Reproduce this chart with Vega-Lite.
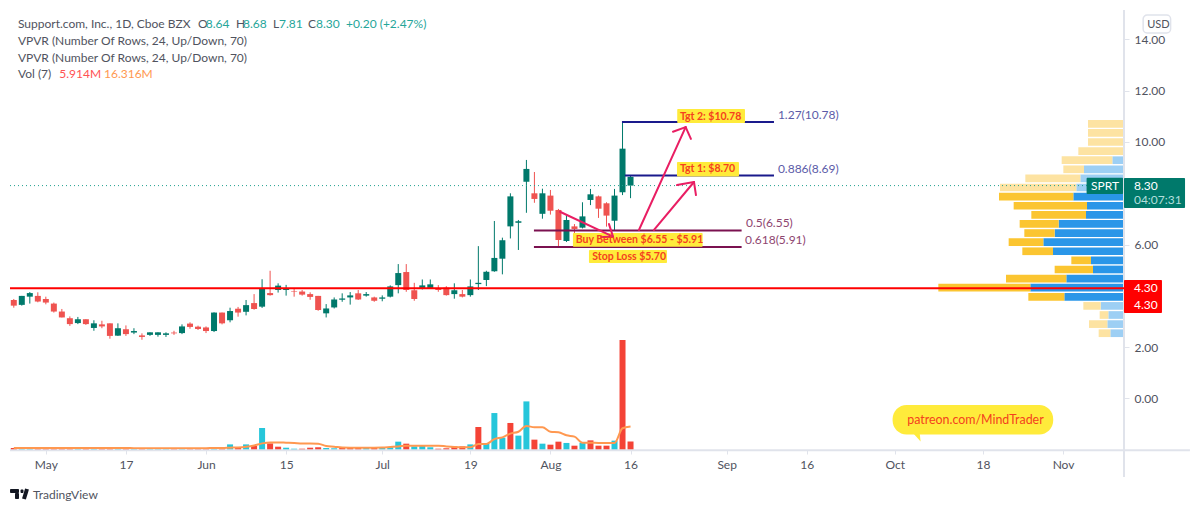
{"$schema":"https://vega.github.io/schema/vega-lite/v6.json","width":1114,"height":440,"autosize":{"type":"none"},"padding":{"left":10,"top":10,"right":76,"bottom":62},"background":"#FFFFFF","config":{"view":{"stroke":null},"font":"Lato","text":{"font":"Lato"}},
"datasets":{
"candles":[
{"i":0,"open":3.84,"high":3.88,"low":3.54,"close":3.62,"tone":"candleDown"},{"i":1,"open":3.65,"high":4.0,"low":3.62,"close":4.0,"tone":"candleUp"},{"i":2,"open":3.97,"high":4.15,"low":3.7,"close":4.11,"tone":"candleUp"},{"i":3,"open":4.0,"high":4.14,"low":3.75,"close":3.78,"tone":"candleDown"},{"i":4,"open":3.88,"high":3.97,"low":3.67,"close":3.74,"tone":"candleDown"},{"i":5,"open":3.7,"high":3.74,"low":3.35,"close":3.39,"tone":"candleDown"},{"i":6,"open":3.39,"high":3.49,"low":3.16,"close":3.16,"tone":"candleDown"},{"i":7,"open":3.13,"high":3.2,"low":2.83,"close":2.9,"tone":"candleDown"},{"i":8,"open":2.94,"high":3.18,"low":2.9,"close":3.09,"tone":"candleUp"},{"i":9,"open":3.09,"high":3.09,"low":2.87,"close":2.9,"tone":"candleDown"},{"i":10,"open":2.75,"high":3.05,"low":2.64,"close":2.93,"tone":"candleUp"},{"i":11,"open":2.89,"high":3.03,"low":2.74,"close":2.81,"tone":"candleDown"},{"i":12,"open":2.93,"high":2.93,"low":2.33,"close":2.44,"tone":"candleDown"},{"i":13,"open":2.45,"high":2.93,"low":2.44,"close":2.74,"tone":"candleUp"},{"i":14,"open":2.7,"high":2.85,"low":2.44,"close":2.51,"tone":"candleDown"},{"i":15,"open":2.57,"high":2.74,"low":2.51,"close":2.63,"tone":"candleUp"},{"i":16,"open":2.46,"high":2.54,"low":2.29,"close":2.4,"tone":"candleDown"},{"i":17,"open":2.48,"high":2.58,"low":2.44,"close":2.58,"tone":"candleUp"},{"i":18,"open":2.48,"high":2.58,"low":2.41,"close":2.58,"tone":"candleUp"},{"i":19,"open":2.48,"high":2.58,"low":2.4,"close":2.54,"tone":"candleUp"},{"i":20,"open":2.57,"high":2.64,"low":2.48,"close":2.54,"tone":"candleDown"},{"i":21,"open":2.55,"high":2.89,"low":2.51,"close":2.81,"tone":"candleUp"},{"i":22,"open":2.92,"high":2.97,"low":2.72,"close":2.79,"tone":"candleDown"},{"i":23,"open":2.8,"high":2.84,"low":2.67,"close":2.71,"tone":"candleDown"},{"i":24,"open":2.77,"high":2.81,"low":2.55,"close":2.63,"tone":"candleDown"},{"i":25,"open":2.63,"high":3.36,"low":2.59,"close":3.35,"tone":"candleUp"},{"i":26,"open":3.35,"high":3.35,"low":2.89,"close":2.93,"tone":"candleDown"},{"i":27,"open":3.05,"high":3.54,"low":2.97,"close":3.41,"tone":"candleUp"},{"i":28,"open":3.5,"high":3.57,"low":3.19,"close":3.35,"tone":"candleDown"},{"i":29,"open":3.38,"high":3.84,"low":3.24,"close":3.64,"tone":"candleUp"},{"i":30,"open":3.72,"high":4.07,"low":3.46,"close":3.49,"tone":"candleDown"},{"i":31,"open":3.58,"high":4.65,"low":3.53,"close":4.27,"tone":"candleUp"},{"i":32,"open":4.11,"high":4.98,"low":4.01,"close":4.03,"tone":"candleDown"},{"i":33,"open":4.23,"high":4.49,"low":4.13,"close":4.4,"tone":"candleUp"},{"i":34,"open":4.23,"high":4.43,"low":4.01,"close":4.28,"tone":"candleUp"},{"i":35,"open":4.19,"high":4.3,"low":3.97,"close":4.17,"tone":"candleDown"},{"i":36,"open":4.17,"high":4.23,"low":4.01,"close":4.05,"tone":"candleDown"},{"i":37,"open":4.07,"high":4.14,"low":3.85,"close":3.96,"tone":"candleDown"},{"i":38,"open":4.0,"high":4.0,"low":3.42,"close":3.45,"tone":"candleDown"},{"i":39,"open":3.32,"high":3.68,"low":3.16,"close":3.51,"tone":"candleUp"},{"i":40,"open":3.55,"high":3.94,"low":3.51,"close":3.86,"tone":"candleUp"},{"i":41,"open":3.85,"high":4.1,"low":3.77,"close":3.9,"tone":"candleUp"},{"i":42,"open":3.94,"high":4.15,"low":3.66,"close":4.02,"tone":"candleUp"},{"i":43,"open":4.1,"high":4.23,"low":3.84,"close":3.86,"tone":"candleDown"},{"i":44,"open":4.01,"high":4.15,"low":3.97,"close":4.07,"tone":"candleUp"},{"i":45,"open":3.94,"high":3.97,"low":3.77,"close":3.81,"tone":"candleDown"},{"i":46,"open":3.89,"high":4.02,"low":3.79,"close":3.94,"tone":"candleUp"},{"i":47,"open":3.97,"high":4.41,"low":3.94,"close":4.37,"tone":"candleUp"},{"i":48,"open":4.42,"high":5.24,"low":4.1,"close":4.89,"tone":"candleUp"},{"i":49,"open":4.93,"high":5.24,"low":4.16,"close":4.23,"tone":"candleDown"},{"i":50,"open":4.22,"high":4.51,"low":3.81,"close":3.88,"tone":"candleDown"},{"i":51,"open":4.31,"high":4.64,"low":4.25,"close":4.41,"tone":"candleUp"},{"i":52,"open":4.31,"high":4.64,"low":4.27,"close":4.45,"tone":"candleUp"},{"i":53,"open":4.29,"high":4.42,"low":4.16,"close":4.23,"tone":"candleDown"},{"i":54,"open":4.32,"high":4.38,"low":4.01,"close":4.03,"tone":"candleDown"},{"i":55,"open":4.07,"high":4.49,"low":3.89,"close":4.22,"tone":"candleUp"},{"i":56,"open":4.07,"high":4.23,"low":3.94,"close":3.97,"tone":"candleDown"},{"i":57,"open":4.03,"high":4.64,"low":3.97,"close":4.37,"tone":"candleUp"},{"i":58,"open":4.46,"high":5.94,"low":4.23,"close":4.51,"tone":"candleUp"},{"i":59,"open":4.62,"high":4.98,"low":4.38,"close":4.94,"tone":"candleUp"},{"i":60,"open":4.96,"high":6.92,"low":4.94,"close":5.48,"tone":"candleUp"},{"i":61,"open":5.45,"high":6.27,"low":4.84,"close":6.17,"tone":"candleUp"},{"i":62,"open":6.71,"high":8.0,"low":6.24,"close":7.88,"tone":"candleUp"},{"i":63,"open":6.85,"high":6.96,"low":5.79,"close":6.91,"tone":"candleUp"},{"i":64,"open":8.45,"high":9.3,"low":7.24,"close":8.95,"tone":"candleUp"},{"i":65,"open":8.0,"high":8.83,"low":7.63,"close":7.78,"tone":"candleDown"},{"i":66,"open":7.2,"high":8.18,"low":7.01,"close":8.0,"tone":"candleUp"},{"i":67,"open":7.91,"high":8.13,"low":7.17,"close":7.32,"tone":"candleDown"},{"i":68,"open":7.35,"high":7.39,"low":5.89,"close":6.18,"tone":"candleDown"},{"i":69,"open":6.14,"high":7.19,"low":6.1,"close":6.96,"tone":"candleUp"},{"i":70,"open":6.71,"high":6.8,"low":6.31,"close":6.61,"tone":"candleDown"},{"i":71,"open":6.66,"high":7.65,"low":6.63,"close":7.1,"tone":"candleUp"},{"i":72,"open":7.74,"high":8.17,"low":7.54,"close":7.96,"tone":"candleUp"},{"i":73,"open":7.88,"high":7.91,"low":7.04,"close":7.4,"tone":"candleDown"},{"i":74,"open":7.61,"high":7.65,"low":6.7,"close":7.13,"tone":"candleDown"},{"i":75,"open":6.93,"high":8.17,"low":6.57,"close":7.91,"tone":"candleUp"},{"i":76,"open":8.04,"high":10.78,"low":7.93,"close":9.74,"tone":"candleUp"},{"i":77,"open":8.64,"high":8.68,"low":7.81,"close":8.3,"tone":"candleUp"}],
"volume":[
{"i":0,"vol":1.4,"ma":1.4,"tone":"volDown"},{"i":1,"vol":1.2,"ma":1.4,"tone":"volUp"},{"i":2,"vol":1.2,"ma":1.4,"tone":"volUp"},{"i":3,"vol":1.3,"ma":1.4,"tone":"volDown"},{"i":4,"vol":1.2,"ma":1.4,"tone":"volDown"},{"i":5,"vol":1.3,"ma":1.4,"tone":"volDown"},{"i":6,"vol":1.2,"ma":1.4,"tone":"volDown"},{"i":7,"vol":1.4,"ma":1.4,"tone":"volDown"},{"i":8,"vol":1.1,"ma":1.4,"tone":"volUp"},{"i":9,"vol":1.2,"ma":1.4,"tone":"volDown"},{"i":10,"vol":1.2,"ma":1.4,"tone":"volUp"},{"i":11,"vol":1.1,"ma":1.4,"tone":"volDown"},{"i":12,"vol":1.5,"ma":1.4,"tone":"volDown"},{"i":13,"vol":1.2,"ma":1.4,"tone":"volUp"},{"i":14,"vol":1.2,"ma":1.4,"tone":"volDown"},{"i":15,"vol":1.0,"ma":1.3,"tone":"volUp"},{"i":16,"vol":1.1,"ma":1.3,"tone":"volDown"},{"i":17,"vol":1.0,"ma":1.3,"tone":"volUp"},{"i":18,"vol":1.0,"ma":1.3,"tone":"volUp"},{"i":19,"vol":1.1,"ma":1.3,"tone":"volUp"},{"i":20,"vol":1.2,"ma":1.3,"tone":"volDown"},{"i":21,"vol":1.3,"ma":1.3,"tone":"volUp"},{"i":22,"vol":1.2,"ma":1.3,"tone":"volDown"},{"i":23,"vol":1.2,"ma":1.3,"tone":"volDown"},{"i":24,"vol":1.2,"ma":1.3,"tone":"volDown"},{"i":25,"vol":1.6,"ma":1.4,"tone":"volUp"},{"i":26,"vol":1.4,"ma":1.4,"tone":"volDown"},{"i":27,"vol":3.9,"ma":1.6,"tone":"volUp"},{"i":28,"vol":1.6,"ma":1.8,"tone":"volDown"},{"i":29,"vol":3.9,"ma":2.3,"tone":"volUp"},{"i":30,"vol":2.8,"ma":3.2,"tone":"volDown"},{"i":31,"vol":15.3,"ma":4.6,"tone":"volUp"},{"i":32,"vol":4.6,"ma":5.3,"tone":"volDown"},{"i":33,"vol":2.3,"ma":5.3,"tone":"volDown"},{"i":34,"vol":1.6,"ma":5.1,"tone":"volUp"},{"i":35,"vol":0.9,"ma":4.9,"tone":"volUp"},{"i":36,"vol":0.9,"ma":4.6,"tone":"volDown"},{"i":37,"vol":1.6,"ma":4.6,"tone":"volDown"},{"i":38,"vol":1.9,"ma":4.4,"tone":"volDown"},{"i":39,"vol":1.4,"ma":2.8,"tone":"volUp"},{"i":40,"vol":1.2,"ma":2.3,"tone":"volUp"},{"i":41,"vol":1.9,"ma":1.7,"tone":"volDown"},{"i":42,"vol":1.5,"ma":1.6,"tone":"volDown"},{"i":43,"vol":1.4,"ma":1.6,"tone":"volDown"},{"i":44,"vol":1.4,"ma":1.6,"tone":"volUp"},{"i":45,"vol":1.5,"ma":1.6,"tone":"volDown"},{"i":46,"vol":1.4,"ma":1.7,"tone":"volUp"},{"i":47,"vol":1.9,"ma":2.1,"tone":"volUp"},{"i":48,"vol":5.8,"ma":2.5,"tone":"volUp"},{"i":49,"vol":4.4,"ma":3.0,"tone":"volDown"},{"i":50,"vol":2.5,"ma":3.0,"tone":"volUp"},{"i":51,"vol":3.0,"ma":3.0,"tone":"volUp"},{"i":52,"vol":1.9,"ma":3.0,"tone":"volUp"},{"i":53,"vol":0.9,"ma":3.0,"tone":"volDown"},{"i":54,"vol":1.2,"ma":2.5,"tone":"volDown"},{"i":55,"vol":2.5,"ma":2.1,"tone":"volDown"},{"i":56,"vol":2.5,"ma":1.9,"tone":"volDown"},{"i":57,"vol":3.9,"ma":1.9,"tone":"volUp"},{"i":58,"vol":16.0,"ma":4.2,"tone":"volDown"},{"i":59,"vol":4.4,"ma":4.2,"tone":"volUp"},{"i":60,"vol":25.7,"ma":7.6,"tone":"volUp"},{"i":61,"vol":8.6,"ma":8.8,"tone":"volUp"},{"i":62,"vol":18.8,"ma":11.4,"tone":"volDown"},{"i":63,"vol":10.0,"ma":12.7,"tone":"volUp"},{"i":64,"vol":33.8,"ma":16.7,"tone":"volUp"},{"i":65,"vol":7.2,"ma":15.8,"tone":"volDown"},{"i":66,"vol":4.4,"ma":15.8,"tone":"volUp"},{"i":67,"vol":3.7,"ma":12.7,"tone":"volDown"},{"i":68,"vol":5.8,"ma":12.3,"tone":"volDown"},{"i":69,"vol":4.9,"ma":10.2,"tone":"volUp"},{"i":70,"vol":3.0,"ma":9.3,"tone":"volDown"},{"i":71,"vol":5.1,"ma":5.1,"tone":"volUp"},{"i":72,"vol":6.7,"ma":5.1,"tone":"volDown"},{"i":73,"vol":3.0,"ma":4.9,"tone":"volDown"},{"i":74,"vol":3.0,"ma":4.9,"tone":"volDown"},{"i":75,"vol":6.5,"ma":4.9,"tone":"volUp"},{"i":76,"vol":76.5,"ma":15.1,"tone":"volDown"},{"i":77,"vol":5.914,"ma":16.316,"tone":"volDown"}],
"profile":[
{"lo":10.56,"hi":10.86,"from":0,"to":10.8,"tone":"vpDownLight"},{"lo":10.205,"hi":10.505,"from":0,"to":10.8,"tone":"vpDownLight"},{"lo":9.85,"hi":10.15,"from":0,"to":10.8,"tone":"vpDownLight"},{"lo":9.495,"hi":9.795,"from":0,"to":13.7,"tone":"vpDownLight"},
{"lo":9.14,"hi":9.44,"from":0,"to":3.5,"tone":"vpUpLight"},{"lo":9.14,"hi":9.44,"from":3.5,"to":18.7,"tone":"vpDownLight"},{"lo":8.785,"hi":9.085,"from":0,"to":12.0,"tone":"vpUpLight"},{"lo":8.785,"hi":9.085,"from":12.0,"to":18.2,"tone":"vpDownLight"},{"lo":8.43,"hi":8.73,"from":0,"to":13.1,"tone":"vpUpLight"},{"lo":8.43,"hi":8.73,"from":13.1,"to":29.6,"tone":"vpDownLight"},{"lo":8.075,"hi":8.375,"from":0,"to":14.3,"tone":"vpUpLight"},{"lo":8.075,"hi":8.375,"from":14.3,"to":37.2,"tone":"vpDownLight"},
{"lo":7.72,"hi":8.02,"from":0,"to":15.2,"tone":"vpUp"},{"lo":7.72,"hi":8.02,"from":15.2,"to":37.5,"tone":"vpDown"},{"lo":7.365,"hi":7.665,"from":0,"to":11.1,"tone":"vpUp"},{"lo":7.365,"hi":7.665,"from":11.1,"to":33.1,"tone":"vpDown"},{"lo":7.01,"hi":7.31,"from":0,"to":11.4,"tone":"vpUp"},{"lo":7.01,"hi":7.31,"from":11.4,"to":27.8,"tone":"vpDown"},{"lo":6.655,"hi":6.955,"from":0,"to":19.6,"tone":"vpUp"},{"lo":6.655,"hi":6.955,"from":19.6,"to":31.3,"tone":"vpDown"},{"lo":6.3,"hi":6.6,"from":0,"to":20.8,"tone":"vpUp"},{"lo":6.3,"hi":6.6,"from":20.8,"to":29.9,"tone":"vpDown"},{"lo":5.945,"hi":6.245,"from":0,"to":24.2,"tone":"vpUp"},{"lo":5.945,"hi":6.245,"from":24.2,"to":34.6,"tone":"vpDown"},{"lo":5.59,"hi":5.89,"from":0,"to":21.3,"tone":"vpUp"},{"lo":5.59,"hi":5.89,"from":21.3,"to":30.5,"tone":"vpDown"},{"lo":5.235,"hi":5.535,"from":0,"to":9.9,"tone":"vpUp"},{"lo":5.235,"hi":5.535,"from":9.9,"to":15.8,"tone":"vpDown"},{"lo":4.88,"hi":5.18,"from":0,"to":9.3,"tone":"vpUp"},{"lo":4.88,"hi":5.18,"from":9.3,"to":20.8,"tone":"vpDown"},{"lo":4.525,"hi":4.825,"from":0,"to":17.3,"tone":"vpUp"},{"lo":4.525,"hi":4.825,"from":17.3,"to":35.4,"tone":"vpDown"},{"lo":4.17,"hi":4.47,"from":0,"to":28.1,"tone":"vpUp"},{"lo":4.17,"hi":4.47,"from":28.1,"to":55.7,"tone":"vpDown"},{"lo":3.815,"hi":4.115,"from":0,"to":17.9,"tone":"vpUp"},{"lo":3.815,"hi":4.115,"from":17.9,"to":28.7,"tone":"vpDown"},
{"lo":3.46,"hi":3.76,"from":0,"to":7.0,"tone":"vpUpLight"},{"lo":3.46,"hi":3.76,"from":7.0,"to":12.2,"tone":"vpDownLight"},{"lo":3.105,"hi":3.405,"from":0,"to":4.7,"tone":"vpUpLight"},{"lo":3.105,"hi":3.405,"from":4.7,"to":7.3,"tone":"vpDownLight"},{"lo":2.75,"hi":3.05,"from":0,"to":5.0,"tone":"vpUpLight"},{"lo":2.75,"hi":3.05,"from":5.0,"to":10.5,"tone":"vpDownLight"},{"lo":2.395,"hi":2.695,"from":0,"to":4.1,"tone":"vpUpLight"},{"lo":2.395,"hi":2.695,"from":4.1,"to":7.6,"tone":"vpDownLight"}],
"levels":[
{"i":138.61,"i2":138.61,"p":15.146,"p2":-3.06,"tone":"axis"},{"i":-0.474,"i2":146.84,"p":-2.02,"p2":-2.02,"tone":"axis"},
{"i":-0.474,"i2":138.61,"p":4.3,"p2":4.3,"tone":"red"},
{"i":75.93,"i2":94.91,"p":10.78,"p2":10.78,"tone":"navy"},{"i":76.3,"i2":94.91,"p":8.69,"p2":8.69,"tone":"navy"},
{"i":64.94,"i2":90.87,"p":6.55,"p2":6.55,"tone":"maroon"},{"i":64.94,"i2":90.87,"p":5.91,"p2":5.91,"tone":"maroon"}],
"arrows":[
{"i":68.19,"i2":74.81,"p":7.28,"p2":6.31,"tone":"pink"},{"i":74.31,"i2":74.81,"p":6.8,"p2":6.31,"tone":"pink"},{"i":73.31,"i2":74.81,"p":6.3,"p2":6.31,"tone":"pink"},
{"i":78.05,"i2":83.88,"p":6.57,"p2":10.58,"tone":"pink"},{"i":82.3,"i2":83.88,"p":10.4,"p2":10.58,"tone":"pink"},{"i":84.54,"i2":83.88,"p":10.12,"p2":10.58,"tone":"pink"},
{"i":79.93,"i2":84.92,"p":6.57,"p2":8.44,"tone":"pink"},{"i":82.8,"i2":84.92,"p":8.32,"p2":8.44,"tone":"pink"},{"i":85.17,"i2":84.92,"p":7.93,"p2":8.44,"tone":"pink"}],
"boxes":[
{"i":82.83,"i2":91.29,"p":11.29,"p2":10.74,"tone":"yellow"},{"i":82.8,"i2":90.54,"p":9.22,"p2":8.65,"tone":"yellow"},{"i":69.81,"i2":86.0,"p":6.45,"p2":5.92,"tone":"yellow"},{"i":71.81,"i2":81.55,"p":5.79,"p2":5.28,"tone":"yellow"},
{"i":133.94,"i2":138.49,"p":8.61,"p2":7.97,"tone":"candleUp"},{"i":138.61,"i2":146.23,"p":8.6,"p2":7.43,"tone":"candleUp"},{"i":138.61,"i2":143.35,"p":4.62,"p2":3.33,"tone":"red"},
{"i":-0.47,"i2":0.65,"p":-3.53,"p2":-3.68,"tone":"logo"},{"i":0.15,"i2":0.65,"p":-3.68,"p2":-3.92,"tone":"logo"},{"i":0.84,"i2":1.21,"p":-3.55,"p2":-3.68,"tone":"logo"}],
"labels":[
{"i":0.52,"p":14.6,"label":"Support.com, Inc., 1D, Cboe BZX","tone":"dark"},{"i":22.99,"p":14.6,"label":"O","tone":"dark"},{"i":23.96,"p":14.6,"label":"8.64","tone":"green"},{"i":27.74,"p":14.6,"label":"H","tone":"dark"},{"i":28.61,"p":14.6,"label":"8.68","tone":"green"},{"i":32.36,"p":14.6,"label":"L","tone":"dark"},{"i":33.11,"p":14.6,"label":"7.81","tone":"green"},{"i":36.73,"p":14.6,"label":"C","tone":"dark"},{"i":37.73,"p":14.6,"label":"8.30","tone":"green"},{"i":41.47,"p":14.6,"label":"+0.20 (+2.47%)","tone":"green"},
{"i":0.52,"p":13.94,"label":"VPVR (Number Of Rows, 24, Up/Down, 70)","tone":"dark"},{"i":0.52,"p":13.29,"label":"VPVR (Number Of Rows, 24, Up/Down, 70)","tone":"dark"},{"i":0.52,"p":12.65,"label":"Vol (7)","tone":"dark"},{"i":5.68,"p":12.65,"label":"5.914M","tone":"volText"},{"i":11.26,"p":12.65,"label":"16.316M","tone":"maText"},
{"i":95.4,"p":11.05,"label":"1.27(10.78)","tone":"navyText"},{"i":95.4,"p":8.95,"label":"0.886(8.69)","tone":"navyText"},{"i":91.41,"p":6.84,"label":"0.5(6.55)","tone":"maroonText"},{"i":91.29,"p":6.18,"label":"0.618(5.91)","tone":"maroonText"},
{"i":134.5,"p":8.29,"label":"SPRT","tone":"white"},{"i":139.85,"p":8.28,"label":"8.30","tone":"white"},{"i":139.85,"p":7.74,"label":"04:07:31","tone":"timer"},{"i":139.85,"p":4.29,"label":"4.30","tone":"white"},{"i":139.85,"p":3.63,"label":"4.30","tone":"white"},
{"i":2.4,"p":-3.76,"label":"TradingView","tone":"dark"}],
"callouts":[
{"i":83.17,"p":10.99,"label":"Tgt 2: $10.78","tone":"pillText"},{"i":83.17,"p":8.96,"label":"Tgt 1: $8.70","tone":"pillText"},{"i":70.15,"p":6.18,"label":"Buy Between $6.55 - $5.91","tone":"pillText"},{"i":72.22,"p":5.53,"label":"Stop Loss $5.70","tone":"pillText"}]
},
"encoding":{"color":{"field":"tone","type":"nominal","legend":null,"scale":{"domain":["candleUp","candleDown","volUp","volDown","vpUp","vpDown","vpUpLight","vpDownLight","axis","red","navy","maroon","pink","yellow","logo","dark","green","volText","maText","navyText","maroonText","white","timer","pillText"],"range":["#00796B","#EF5350","#26C6DA","#F44336","#2A96E8","#FBC531","#9DCFF4","#FDE3A2","#E0E3EB","#FF0000","#1A1A8C","#7B1150","#E91E63","#FFEB3B","#131722","#50535E","#26A69A","#FF5252","#FF9850","#5B5BA8","#8E4570","#FFFFFF","#B2DFDB","#F4411E"]}}},
"resolve":{"scale":{"x":"independent","y":"independent"}},
"layer":[
{"data":{"name":"profile"},"mark":{"type":"bar"},"encoding":{"x":{"field":"from","type":"quantitative","axis":null,"scale":{"domain":[0,334.2],"range":[1114,0],"nice":false,"zero":false,"padding":0}},"x2":{"field":"to"},"y":{"field":"lo","type":"quantitative","axis":null,"scale":{"domain":[-2.008,15.146],"nice":false,"zero":false,"padding":0}},"y2":{"field":"hi"}}},
{"data":{"name":"volume"},"layer":[
{"mark":{"type":"bar","size":6},"encoding":{"x":{"field":"i","type":"quantitative","axis":null,"scale":{"domain":[-0.474,138.61],"nice":false,"zero":false,"padding":0}},"y":{"field":"vol","type":"quantitative","axis":null,"scale":{"domain":[0,76.5],"range":[440,330],"nice":false,"padding":0}}}},
{"mark":{"type":"line","strokeWidth":2,"interpolate":"monotone"},"encoding":{"x":{"field":"i","type":"quantitative","axis":null},"y":{"field":"ma","type":"quantitative","axis":null},"color":{"value":"#FF9850"}}}]},
{"data":{"name":"candles"},"mark":{"type":"rule","strokeWidth":1},"encoding":{"x":{"field":"i","type":"quantitative","scale":{"domain":[-0.474,138.61],"nice":false,"zero":false,"padding":0},"axis":{"orient":"bottom","title":null,"values":[4,14,24,34,46,57,67,77,89,99,110,121,131],"labelExpr":"{'4':'May','14':'17','24':'Jun','34':'15','46':'Jul','57':'19','67':'Aug','77':'16','89':'Sep','99':'16','110':'Oct','121':'18','131':'Nov'}[''+datum.value]","domain":false,"grid":false,"tickColor":"#E0E3EB","tickSize":4,"labelColor":"#50535E","labelFont":"Lato","labelFontSize":12,"labelPadding":5,"labelOverlap":false,"labelFlush":false}},"y":{"field":"low","type":"quantitative","scale":{"domain":[-2.008,15.146],"nice":false,"zero":false,"padding":0},"axis":{"orient":"right","title":null,"values":[0,2,6,10,12,14],"format":".2f","domain":false,"grid":false,"tickColor":"#E0E3EB","tickSize":5,"labelColor":"#50535E","labelFont":"Lato","labelFontSize":12,"labelPadding":5}},"y2":{"field":"high"}}},
{"layer":[
{"data":{"name":"candles"},"mark":{"type":"bar","size":6},"encoding":{"x":{"field":"i","type":"quantitative","axis":null,"scale":{"domain":[-0.474,138.61],"nice":false,"zero":false,"padding":0}},"y":{"field":"open","type":"quantitative","axis":null,"scale":{"domain":[-2.008,15.146],"nice":false,"zero":false,"padding":0}},"y2":{"field":"close"}}},
{"data":{"values":[{"i":-0.474,"i2":138.61,"p":8.3}]},"mark":{"type":"rule","strokeWidth":1,"strokeDash":[1,3]},"encoding":{"color":{"value":"#1FA08F"},"x":{"field":"i","type":"quantitative","axis":null},"x2":{"field":"i2"},"y":{"field":"p","type":"quantitative","axis":null}}},
{"data":{"name":"levels"},"mark":{"type":"rule","strokeWidth":2},"encoding":{"x":{"field":"i","type":"quantitative","axis":null},"x2":{"field":"i2"},"y":{"field":"p","type":"quantitative","axis":null},"y2":{"field":"p2"}}},
{"data":{"name":"boxes"},"mark":{"type":"rect","cornerRadius":1},"encoding":{"x":{"field":"i","type":"quantitative","axis":null},"x2":{"field":"i2"},"y":{"field":"p","type":"quantitative","axis":null},"y2":{"field":"p2"}}},
{"data":{"name":"arrows"},"mark":{"type":"rule","strokeWidth":2,"strokeCap":"round"},"encoding":{"x":{"field":"i","type":"quantitative","axis":null},"x2":{"field":"i2"},"y":{"field":"p","type":"quantitative","axis":null},"y2":{"field":"p2"}}},
{"data":{"values":[{"i":1.65,"i2":1.27,"p":-3.53,"p2":-3.92,"tone":"logo"}]},"mark":{"type":"rule","strokeWidth":4},"encoding":{"x":{"field":"i","type":"quantitative","axis":null},"x2":{"field":"i2"},"y":{"field":"p","type":"quantitative","axis":null},"y2":{"field":"p2"}}},
{"data":{"values":[{"i":109.72,"i2":129.77,"p":-0.25,"p2":-1.4,"tone":"yellow"}]},"mark":{"type":"rect","cornerRadius":14},"encoding":{"x":{"field":"i","type":"quantitative","axis":null},"x2":{"field":"i2"},"y":{"field":"p","type":"quantitative","axis":null},"y2":{"field":"p2"}}},
{"data":{"values":[{"i":112.7,"p":-1.45,"tone":"yellow"}]},"mark":{"type":"point","filled":true,"opacity":1,"size":140,"shape":"M-0.9,-0.8L0.5,-0.8L0.7,1Z"},"encoding":{"x":{"field":"i","type":"quantitative","axis":null},"y":{"field":"p","type":"quantitative","axis":null}}},
{"data":{"values":[{"i":141.0,"i2":144.43,"p":14.95,"p2":14.25}]},"mark":{"type":"rect","cornerRadius":4,"fill":"#FFFFFF","stroke":"#E0E3EB","strokeWidth":1.5},"encoding":{"color":{"value":"#FFFFFF"},"x":{"field":"i","type":"quantitative","axis":null},"x2":{"field":"i2"},"y":{"field":"p","type":"quantitative","axis":null},"y2":{"field":"p2"}}},
{"data":{"values":[{"i":141.5,"p":14.58,"label":"USD","tone":"dark"}]},"mark":{"type":"text","align":"left","baseline":"middle","fontSize":11},"encoding":{"x":{"field":"i","type":"quantitative","axis":null},"y":{"field":"p","type":"quantitative","axis":null},"text":{"field":"label"}}},
{"data":{"name":"labels"},"mark":{"type":"text","align":"left","baseline":"middle","fontSize":12},"encoding":{"x":{"field":"i","type":"quantitative","axis":null},"y":{"field":"p","type":"quantitative","axis":null},"text":{"field":"label"}}},
{"data":{"values":[{"i":111.55,"p":-0.82,"label":"patreon.com/MindTrader","tone":"pillText"}]},"mark":{"type":"text","align":"left","baseline":"middle","fontSize":12.4},"encoding":{"x":{"field":"i","type":"quantitative","axis":null},"y":{"field":"p","type":"quantitative","axis":null},"text":{"field":"label"}}},
{"data":{"name":"callouts"},"mark":{"type":"text","align":"left","baseline":"middle","fontSize":10.5,"fontWeight":"bold"},"encoding":{"x":{"field":"i","type":"quantitative","axis":null},"y":{"field":"p","type":"quantitative","axis":null},"text":{"field":"label"}}}
]}
]}
